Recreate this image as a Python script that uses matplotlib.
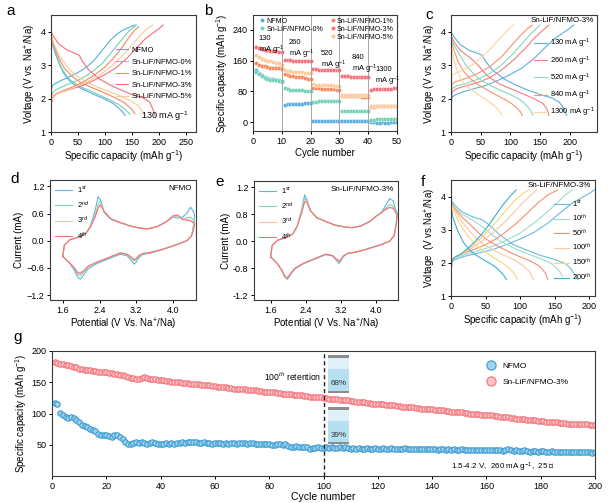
import matplotlib.pyplot as plt
from matplotlib.patches import Rectangle

plt.rcParams['font.family'] = ['Liberation Sans', 'DejaVu Sans']
plt.rcParams['mathtext.fontset'] = 'custom'
plt.rcParams['mathtext.rm'] = 'Liberation Sans'
plt.rcParams['mathtext.it'] = 'Liberation Sans:italic'
plt.rcParams['font.size'] = 6.5
plt.rcParams['axes.linewidth'] = 0.8
plt.rcParams['axes.edgecolor'] = '#3a3a3a'
plt.rcParams['xtick.major.size'] = 2.5
plt.rcParams['ytick.major.size'] = 2.5
plt.rcParams['xtick.major.width'] = 0.7
plt.rcParams['ytick.major.width'] = 0.7
plt.rcParams['xtick.major.pad'] = 1.5
plt.rcParams['ytick.major.pad'] = 1.5
plt.rcParams['axes.labelpad'] = 1.5

# ---------------- panel a : charge / discharge, 130 mA g-1 ----------------
a_labels = ['NFMO', 'Sn-LiF/NFMO-0%', 'Sn-LiF/NFMO-1%', 'Sn-LiF/NFMO-3%', 'Sn-LiF/NFMO-5%']
a_colors = ['#56aedf', '#6fd1b6', '#f7875b', '#f76d7a', '#fcc998']
a_chg_cap = [
    [0, 1, 3, 10, 20, 30, 40, 50, 60, 70, 80, 90, 100, 110, 120, 130, 140, 150, 155],
    [0, 2, 8, 20, 35, 50, 65, 80, 95, 110, 125, 140, 150, 158],
    [0, 2, 10, 25, 40, 60, 80, 100, 115, 130, 145, 155, 162],
    [0, 2, 8, 20, 40, 60, 80, 100, 120, 140, 160, 175, 190, 200, 207],
    [0, 3, 12, 30, 50, 70, 90, 110, 130, 150, 165, 178, 188],
]
a_chg_v = [
    [2.0, 2.3, 2.4, 2.47, 2.55, 2.62, 2.7, 2.78, 2.88, 3.0, 3.15, 3.35, 3.55, 3.75, 3.9, 4.02, 4.1, 4.17, 4.2],
    [1.9, 2.15, 2.25, 2.35, 2.45, 2.55, 2.68, 2.85, 3.05, 3.35, 3.65, 3.95, 4.1, 4.2],
    [1.8, 2.05, 2.15, 2.25, 2.35, 2.5, 2.7, 2.95, 3.2, 3.5, 3.85, 4.05, 4.15],
    [1.75, 2.0, 2.12, 2.2, 2.3, 2.4, 2.55, 2.72, 2.92, 3.2, 3.55, 3.8, 3.98, 4.1, 4.2],
    [1.8, 2.05, 2.15, 2.25, 2.38, 2.52, 2.7, 2.95, 3.25, 3.6, 3.9, 4.1, 4.2],
]
a_dis_cap = [
    [0, 3, 8, 15, 22, 30, 40, 50, 60, 80, 100, 115, 125, 132, 137],
    [0, 5, 12, 20, 30, 40, 55, 70, 90, 110, 125, 135, 142, 146],
    [0, 5, 15, 25, 40, 55, 75, 95, 115, 135, 148, 155],
    [0, 5, 15, 30, 45, 52, 58, 70, 90, 110, 130, 150, 170, 182, 188, 192],
    [0, 5, 15, 30, 45, 65, 85, 105, 125, 145, 160, 168, 173],
]
a_dis_v = [
    [3.8, 3.6, 3.35, 3.05, 2.8, 2.6, 2.45, 2.35, 2.27, 2.12, 1.98, 1.85, 1.72, 1.6, 1.5],
    [3.85, 3.55, 3.2, 2.9, 2.65, 2.5, 2.35, 2.25, 2.1, 1.95, 1.82, 1.7, 1.6, 1.52],
    [3.9, 3.6, 3.2, 2.9, 2.65, 2.48, 2.33, 2.2, 2.05, 1.88, 1.7, 1.55],
    [4.0, 3.85, 3.62, 3.45, 3.35, 3.3, 3.12, 2.85, 2.58, 2.4, 2.25, 2.12, 2.02, 1.9, 1.7, 1.5],
    [3.95, 3.65, 3.3, 2.95, 2.7, 2.5, 2.35, 2.22, 2.1, 1.95, 1.8, 1.65, 1.5],
]

# ---------------- panel b : rate capability ----------------
b_cycles = list(range(1, 51))
b_nfmo = [135, 128, 122, 118, 115, 113, 112, 110, 110, 104,
          45, 46, 47, 47, 48, 48, 48, 49, 49, 50,
          2, 2, 2, 2, 2, 2, 2, 2, 2, 2,
          3, 3, 3, 3, 3, 3, 3, 3, 3, 3,
          1, 0, -1, -1, 0, -1, -1, 0, 0, 0]
b_s0 = [130, 125, 120, 115, 112, 110, 110, 110, 108, 108,
        88, 86, 85, 84, 84, 83, 83, 82, 82, 82,
        53, 53, 54, 54, 54, 54, 54, 54, 54, 54,
        30, 30, 30, 30, 30, 30, 30, 30, 30, 30,
        5, 6, 7, 7, 8, 8, 8, 8, 7, 7]
b_s1 = [155, 150, 147, 145, 143, 142, 142, 140, 140, 138,
        125, 122, 120, 120, 118, 118, 117, 115, 113, 112,
        90, 88, 88, 87, 87, 86, 86, 86, 85, 85,
        68, 68, 68, 67, 67, 67, 67, 66, 66, 66,
        40, 40, 41, 41, 41, 41, 41, 41, 41, 41]
b_s3 = [195, 192, 190, 188, 187, 186, 185, 184, 183, 182,
        163, 162, 161, 160, 160, 159, 159, 158, 158, 158,
        138, 138, 137, 137, 137, 136, 136, 136, 135, 135,
        120, 119, 119, 118, 118, 118, 117, 117, 117, 117,
        85, 86, 86, 87, 87, 87, 87, 87, 88, 88]
b_s5 = [175, 170, 165, 162, 160, 158, 156, 155, 153, 150,
        135, 133, 132, 131, 131, 130, 130, 129, 129, 128,
        100, 98, 97, 97, 96, 96, 96, 95, 95, 95,
        72, 72, 71, 71, 71, 71, 71, 70, 70, 70,
        42, 42, 42, 42, 42, 42, 42, 42, 42, 42]
b_rates = ['130', '260', '520', '840', '1300']

# ---------------- panel c : Sn-LiF/NFMO-3% at various rates ----------------
c_labels = ['130 mA g$^{-1}$', '260 mA g$^{-1}$', '520 mA g$^{-1}$', '840 mA g$^{-1}$', '1300 mA g$^{-1}$']
c_colors = ['#5ab0e2', '#f47c80', '#86d8bf', '#f8946b', '#fdd3a3']
c_chg_cap = [
    [0, 2, 8, 20, 40, 60, 80, 100, 120, 140, 160, 175, 190, 200, 207],
    [0, 2, 10, 25, 45, 65, 85, 105, 125, 140, 155, 165],
    [0, 2, 10, 25, 45, 65, 85, 105, 120, 135, 150],
    [0, 2, 10, 25, 45, 65, 85, 100, 115, 128, 137],
    [0, 2, 10, 25, 40, 55, 70, 85, 97, 105],
]
c_chg_v = [
    [1.75, 2.05, 2.12, 2.2, 2.3, 2.4, 2.55, 2.72, 2.92, 3.2, 3.55, 3.8, 3.98, 4.1, 4.2],
    [1.9, 2.2, 2.3, 2.38, 2.48, 2.62, 2.85, 3.15, 3.5, 3.8, 4.05, 4.2],
    [2.0, 2.3, 2.38, 2.45, 2.58, 2.75, 3.0, 3.35, 3.65, 3.95, 4.2],
    [2.1, 2.45, 2.52, 2.6, 2.75, 2.95, 3.25, 3.55, 3.85, 4.08, 4.2],
    [2.3, 2.7, 2.78, 2.9, 3.05, 3.3, 3.55, 3.85, 4.08, 4.2],
]
c_dis_cap = [
    [0, 5, 15, 30, 45, 52, 58, 70, 90, 110, 130, 150, 170, 182, 190, 195],
    [0, 5, 15, 30, 40, 48, 60, 80, 100, 120, 140, 155, 162, 165],
    [0, 5, 15, 25, 35, 45, 60, 80, 100, 115, 127, 134, 138],
    [0, 5, 12, 22, 32, 45, 60, 75, 90, 102, 112, 117, 120],
    [0, 4, 10, 18, 28, 40, 52, 63, 72, 79, 83, 85],
]
c_dis_v = [
    [4.0, 3.85, 3.62, 3.45, 3.35, 3.3, 3.12, 2.85, 2.58, 2.4, 2.25, 2.12, 2.02, 1.9, 1.7, 1.5],
    [3.9, 3.7, 3.45, 3.25, 3.1, 2.95, 2.7, 2.45, 2.3, 2.15, 2.0, 1.85, 1.68, 1.5],
    [3.85, 3.6, 3.3, 3.0, 2.8, 2.62, 2.45, 2.27, 2.12, 1.98, 1.8, 1.65, 1.5],
    [3.75, 3.45, 3.1, 2.8, 2.6, 2.42, 2.27, 2.12, 1.98, 1.85, 1.7, 1.6, 1.5],
    [3.6, 3.2, 2.85, 2.55, 2.35, 2.2, 2.05, 1.92, 1.8, 1.68, 1.58, 1.5],
]

# ---------------- panels d, e : CV curves ----------------
cv_labels = ['1$^{st}$', '2$^{nd}$', '3$^{rd}$', '4$^{th}$']
cv_colors = ['#5db6e2', '#7fd6bd', '#fbc3a6', '#f47276']
cv_up_v = [1.6, 1.63, 1.75, 1.95, 2.1, 2.2, 2.3, 2.37, 2.42, 2.5, 2.65, 2.85, 3.05, 3.25,
           3.45, 3.65, 3.85, 4.0, 4.1, 4.2, 4.3, 4.38, 4.42, 4.47]
cv_dn_v = [4.47, 4.45, 4.4, 4.3, 4.1, 3.9, 3.7, 3.5, 3.35, 3.25, 3.2, 3.15, 3.1, 3.0, 2.85,
           2.6, 2.35, 2.15, 2.05, 1.98, 1.92, 1.85, 1.75, 1.65, 1.6]
d_up_i = [
    [-0.35, -0.1, 0.02, 0.08, 0.16, 0.32, 0.66, 0.97, 0.9, 0.62, 0.47, 0.4, 0.33, 0.28, 0.26, 0.31, 0.41, 0.52, 0.5, 0.52, 0.6, 0.74, 0.68, 0.58],
    [-0.35, -0.1, 0.02, 0.08, 0.16, 0.3, 0.55, 0.8, 0.88, 0.64, 0.48, 0.4, 0.33, 0.28, 0.26, 0.31, 0.41, 0.52, 0.55, 0.5, 0.5, 0.52, 0.48, 0.42],
    [-0.35, -0.1, 0.02, 0.08, 0.16, 0.3, 0.52, 0.74, 0.8, 0.64, 0.48, 0.4, 0.33, 0.28, 0.26, 0.31, 0.41, 0.53, 0.56, 0.48, 0.46, 0.45, 0.42, 0.38],
    [-0.35, -0.1, 0.02, 0.08, 0.16, 0.3, 0.52, 0.72, 0.79, 0.64, 0.48, 0.4, 0.33, 0.28, 0.26, 0.31, 0.42, 0.55, 0.57, 0.47, 0.45, 0.44, 0.41, 0.37],
]
d_dn_i = [
    [0.58, 0.35, 0.1, 0.0, -0.08, -0.15, -0.22, -0.28, -0.3, -0.38, -0.47, -0.52, -0.45, -0.33, -0.3, -0.4, -0.5, -0.62, -0.76, -0.85, -0.8, -0.66, -0.5, -0.4, -0.35],
    [0.42, 0.3, 0.1, 0.0, -0.08, -0.15, -0.22, -0.27, -0.29, -0.35, -0.42, -0.45, -0.4, -0.31, -0.28, -0.38, -0.48, -0.58, -0.7, -0.77, -0.74, -0.62, -0.5, -0.4, -0.35],
    [0.38, 0.28, 0.1, 0.0, -0.08, -0.15, -0.21, -0.26, -0.28, -0.34, -0.4, -0.43, -0.38, -0.3, -0.27, -0.37, -0.47, -0.57, -0.68, -0.73, -0.71, -0.6, -0.49, -0.4, -0.35],
    [0.37, 0.27, 0.1, 0.0, -0.08, -0.15, -0.21, -0.26, -0.28, -0.33, -0.39, -0.42, -0.37, -0.3, -0.27, -0.37, -0.47, -0.56, -0.67, -0.72, -0.7, -0.6, -0.49, -0.4, -0.35],
]
e_up_i = [
    [-0.35, -0.1, 0.02, 0.08, 0.16, 0.34, 0.7, 1.03, 0.93, 0.68, 0.52, 0.44, 0.36, 0.32, 0.3, 0.34, 0.44, 0.56, 0.62, 0.78, 0.95, 0.9, 0.75, 0.62],
    [-0.35, -0.1, 0.02, 0.08, 0.16, 0.33, 0.66, 0.95, 0.9, 0.68, 0.52, 0.44, 0.36, 0.32, 0.3, 0.34, 0.44, 0.56, 0.62, 0.72, 0.82, 0.78, 0.7, 0.6],
    [-0.35, -0.1, 0.02, 0.08, 0.16, 0.33, 0.64, 0.9, 0.88, 0.68, 0.52, 0.44, 0.36, 0.32, 0.3, 0.34, 0.44, 0.56, 0.63, 0.7, 0.76, 0.74, 0.68, 0.58],
    [-0.35, -0.1, 0.02, 0.08, 0.16, 0.33, 0.62, 0.88, 0.87, 0.68, 0.52, 0.44, 0.36, 0.32, 0.3, 0.34, 0.44, 0.56, 0.63, 0.7, 0.75, 0.73, 0.67, 0.58],
]
e_dn_i = [
    [0.62, 0.4, 0.12, 0.0, -0.08, -0.14, -0.2, -0.25, -0.27, -0.34, -0.43, -0.5, -0.44, -0.33, -0.3, -0.4, -0.5, -0.62, -0.75, -0.85, -0.8, -0.65, -0.5, -0.4, -0.36],
    [0.6, 0.38, 0.12, 0.0, -0.08, -0.14, -0.2, -0.25, -0.27, -0.33, -0.41, -0.47, -0.42, -0.32, -0.29, -0.39, -0.49, -0.61, -0.74, -0.83, -0.79, -0.65, -0.5, -0.4, -0.36],
    [0.58, 0.37, 0.12, 0.0, -0.08, -0.14, -0.2, -0.25, -0.27, -0.33, -0.4, -0.45, -0.41, -0.32, -0.29, -0.39, -0.49, -0.6, -0.73, -0.82, -0.78, -0.64, -0.5, -0.4, -0.36],
    [0.58, 0.37, 0.12, 0.0, -0.08, -0.14, -0.2, -0.25, -0.27, -0.33, -0.4, -0.44, -0.4, -0.32, -0.29, -0.39, -0.49, -0.6, -0.72, -0.82, -0.78, -0.64, -0.5, -0.4, -0.36],
]

# ---------------- panel f : Sn-LiF/NFMO-3% at different cycles ----------------
f_labels = ['1$^{st}$', '10$^{th}$', '50$^{th}$', '100$^{th}$', '150$^{th}$', '200$^{th}$']
f_colors = ['#6cbae3', '#9cdcc9', '#f4906d', '#fcc8a2', '#fdd47e', '#3fb1c9']
f_chg_cap = [
    [0, 2, 8, 20, 40, 60, 80, 100, 120, 140, 160, 175, 190, 200, 207],
    [0, 2, 8, 20, 40, 60, 80, 100, 120, 140, 155, 165, 175],
    [0, 2, 8, 20, 35, 50, 65, 80, 95, 110, 125, 140, 154],
    [0, 2, 8, 18, 30, 45, 60, 75, 90, 103, 114, 124],
    [0, 2, 8, 18, 30, 42, 55, 68, 80, 92, 103, 112],
    [0, 2, 8, 15, 25, 35, 45, 55, 65, 75, 85, 94],
]
f_chg_v = [
    [1.75, 2.05, 2.12, 2.2, 2.3, 2.4, 2.55, 2.72, 2.92, 3.2, 3.55, 3.8, 3.98, 4.1, 4.2],
    [1.8, 2.1, 2.17, 2.25, 2.37, 2.5, 2.68, 2.9, 3.2, 3.55, 3.85, 4.05, 4.2],
    [1.8, 2.12, 2.2, 2.3, 2.42, 2.55, 2.72, 2.95, 3.2, 3.5, 3.8, 4.05, 4.2],
    [1.8, 2.12, 2.2, 2.3, 2.45, 2.65, 2.9, 3.18, 3.5, 3.8, 4.02, 4.2],
    [1.8, 2.12, 2.2, 2.3, 2.5, 2.72, 3.0, 3.3, 3.6, 3.88, 4.08, 4.2],
    [1.8, 2.1, 2.2, 2.28, 2.45, 2.65, 2.88, 3.15, 3.45, 3.75, 4.0, 4.2],
]
f_dis_cap = [
    [0, 5, 15, 30, 45, 55, 70, 90, 110, 130, 150, 165, 172, 177, 183],
    [0, 5, 15, 30, 45, 55, 70, 90, 110, 130, 145, 155, 161],
    [0, 5, 15, 28, 40, 52, 68, 85, 100, 115, 128, 136, 140],
    [0, 5, 14, 25, 36, 48, 62, 77, 92, 104, 113, 119],
    [0, 4, 12, 22, 32, 43, 55, 66, 77, 86, 92, 96],
    [0, 3, 10, 18, 26, 35, 45, 55, 64, 72, 77, 80],
]
f_dis_v = [
    [3.9, 3.75, 3.55, 3.4, 3.3, 3.15, 2.85, 2.55, 2.38, 2.22, 2.1, 1.98, 1.85, 1.7, 1.5],
    [3.85, 3.68, 3.48, 3.3, 3.1, 2.92, 2.68, 2.45, 2.28, 2.12, 1.98, 1.8, 1.6],
    [3.85, 3.65, 3.4, 3.15, 2.9, 2.7, 2.5, 2.32, 2.18, 2.05, 1.9, 1.7, 1.5],
    [3.8, 3.6, 3.3, 3.0, 2.75, 2.55, 2.38, 2.22, 2.08, 1.92, 1.75, 1.5],
    [3.8, 3.55, 3.2, 2.88, 2.62, 2.42, 2.25, 2.1, 1.96, 1.8, 1.65, 1.5],
    [3.7, 3.35, 2.95, 2.62, 2.4, 2.25, 2.12, 2.0, 1.88, 1.72, 1.6, 1.5],
]

# ---------------- panel g : long cycling at 260 mA g-1 ----------------
g_cycles = list(range(1, 201))
g_nfmo = [117, 115, 101, 97, 94, 93, 95, 93, 90, 87,
          82, 80, 79, 76, 74, 72, 68, 66, 66, 65,
          64, 62, 66, 65, 62, 59, 55, 51, 52, 53,
          54, 53, 54, 53, 52, 53, 54, 53, 51, 52,
          52, 53, 52, 53, 52, 53, 53, 54, 53, 54,
          54, 55, 54, 53, 53, 54, 53, 53, 52, 53,
          53, 53, 52, 53, 52, 53, 53, 52, 53, 53,
          53, 52, 53, 53, 52, 52, 51, 52, 51, 51,
          50, 50, 51, 51, 50, 51, 48, 47, 47, 48,
          47, 46, 46, 47, 44, 45, 45, 46, 45, 45,
          46, 45, 46, 45, 45, 46, 45, 46, 45, 44,
          45, 44, 45, 44, 44, 45, 44, 44, 45, 44,
          44, 45, 44, 44, 45, 44, 44, 43, 44, 45,
          44, 43, 44, 43, 44, 43, 43, 44, 43, 43,
          43, 42, 43, 43, 42, 43, 42, 43, 42, 42,
          43, 42, 42, 41, 42, 42, 41, 42, 41, 41,
          42, 41, 41, 42, 41, 40, 41, 43, 41, 40,
          41, 40, 40, 41, 40, 39, 40, 40, 39, 40,
          40, 39, 39, 40, 39, 38, 39, 39, 38, 39,
          39, 38, 39, 38, 38, 39, 38, 38, 37, 38]
g_sn3 = [183, 181, 180, 179, 178, 177, 176, 175, 174, 172,
         171, 170, 170, 169, 168, 168, 167, 167, 166, 166,
         165, 165, 164, 163, 162, 161, 160, 158, 157, 157,
         156, 156, 157, 158, 157, 156, 155, 155, 154, 154,
         153, 152, 152, 151, 151, 150, 150, 149, 149, 149,
         148, 148, 147, 147, 146, 146, 145, 145, 144, 144,
         143, 143, 142, 142, 141, 141, 140, 140, 139, 139,
         139, 138, 138, 137, 137, 136, 136, 135, 135, 135,
         134, 134, 133, 133, 132, 132, 131, 131, 130, 130,
         129, 129, 128, 128, 127, 127, 126, 126, 126, 125,
         125, 124, 124, 123, 123, 122, 122, 121, 121, 120,
         120, 119, 119, 118, 118, 117, 117, 116, 116, 115,
         115, 115, 114, 114, 113, 113, 112, 112, 111, 111,
         111, 110, 110, 109, 109, 108, 108, 108, 107, 107,
         106, 106, 105, 105, 104, 104, 103, 103, 102, 102,
         102, 101, 101, 100, 100, 99, 99, 98, 98, 97,
         97, 97, 96, 96, 95, 95, 94, 94, 93, 93,
         92, 92, 91, 91, 90, 90, 89, 89, 88, 88,
         88, 87, 87, 86, 86, 86, 85, 85, 85, 84,
         84, 84, 84, 83, 83, 83, 83, 82, 82, 82]

W, H = 609, 503


def box(l, t, r, b):
    return [l / W, 1 - b / H, (r - l) / W, (b - t) / H]


def letter(fig, px, py, s):
    fig.text(px / W, 1 - py / H, s, fontsize=11, ha='left', va='top')


fig = plt.figure(figsize=(W / 100, H / 100), dpi=100)

# ---- a ----
ax = fig.add_axes(box(51, 15, 196, 132))
for i in range(5):
    ax.plot(a_chg_cap[i], a_chg_v[i], color=a_colors[i], lw=0.8, label=a_labels[i])
    ax.plot(a_dis_cap[i], a_dis_v[i], color=a_colors[i], lw=0.8)
ax.set_xlim(0, 268)
ax.set_ylim(1, 4.5)
ax.set_xticks([0, 50, 100, 150, 200, 250])
ax.set_yticks([1, 2, 3, 4])
ax.set_xlabel('Specific capacity (mAh g$^{-1}$)', fontsize=7)
ax.set_ylabel('Voltage (V vs. Na$^{+}$/Na)', fontsize=7)
ax.legend(loc='center right', bbox_to_anchor=(1.02, 0.5), frameon=False, fontsize=5.5,
          handlelength=1.6, labelspacing=0.55, handletextpad=0.4)
ax.text(0.95, 0.08, '130 mA g$^{-1}$', transform=ax.transAxes, ha='right', va='bottom', fontsize=6.5)
letter(fig, 6, 4, 'a')

# ---- b ----
ax = fig.add_axes(box(253, 15, 397, 131))
b_series = [b_nfmo, b_s0, b_s1, b_s3, b_s5]
for i in range(5):
    ax.plot(b_cycles, b_series[i], 'o', ms=3.0, color=a_colors[i], mec='white', mew=0.25,
            label=a_labels[i])
for x in [10, 20, 30, 40]:
    ax.axvline(x, color='#9a9a9a', lw=0.6)
rate_pos = [(2.0, 226), (12.4, 216), (23.6, 188), (34.3, 178), (42.4, 147)]
for (x, y), r in zip(rate_pos, b_rates):
    ax.text(x, y, r + '\nmA g$^{-1}$', ha='left', va='top', fontsize=5.4, linespacing=1.2)
ax.set_xlim(0, 50)
ax.set_ylim(-23, 279)
ax.set_xticks([0, 10, 20, 30, 40, 50])
ax.set_yticks([0, 80, 160, 240])
ax.set_xlabel('Cycle number', fontsize=7)
ax.set_ylabel('Specific capacity (mAh g$^{-1}$)', fontsize=7)
h, l = ax.get_legend_handles_labels()
lg1 = ax.legend(h[:2], l[:2], loc='upper left', bbox_to_anchor=(0.0, 1.03), frameon=False,
                fontsize=5.0, handlelength=0.8, handletextpad=0.2, labelspacing=0.15)
ax.add_artist(lg1)
ax.legend(h[2:], l[2:], loc='upper right', bbox_to_anchor=(1.02, 1.03), frameon=False,
          fontsize=5.0, handlelength=0.8, handletextpad=0.2, labelspacing=0.15)
letter(fig, 204, 4, 'b')

# ---- c ----
ax = fig.add_axes(box(451, 15, 597, 132))
for i in range(5):
    ax.plot(c_chg_cap[i], c_chg_v[i], color=c_colors[i], lw=0.8, label=c_labels[i])
    ax.plot(c_dis_cap[i], c_dis_v[i], color=c_colors[i], lw=0.8)
ax.set_xlim(0, 246)
ax.set_ylim(1, 4.5)
ax.set_xticks([0, 50, 100, 150, 200])
ax.set_yticks([1, 2, 3, 4])
ax.set_xlabel('Specific capacity (mAh g$^{-1}$)', fontsize=7)
ax.set_ylabel('Voltage (V vs. Na$^{+}$/Na)', fontsize=7)
ax.legend(loc='upper right', bbox_to_anchor=(1.03, 0.87), frameon=False, fontsize=5.5,
          handlelength=1.6, labelspacing=0.5, handletextpad=0.4)
ax.text(0.98, 0.98, 'Sn-LiF/NFMO-3%', transform=ax.transAxes, ha='right', va='top', fontsize=5.8)
letter(fig, 425, 8, 'c')

# ---- d ----
ax = fig.add_axes(box(50, 180, 196, 300))
for i in range(4):
    ax.plot(cv_up_v + cv_dn_v, d_up_i[i] + d_dn_i[i], color=cv_colors[i], lw=0.8, label=cv_labels[i])
ax.set_xlim(1.32, 4.5)
ax.set_ylim(-1.31, 1.34)
ax.set_xticks([1.6, 2.4, 3.2, 4.0])
ax.set_yticks([-1.2, -0.6, 0.0, 0.6, 1.2])
ax.set_xlabel('Potential (V Vs. Na$^{+}$/Na)', fontsize=7)
ax.set_ylabel('Current (mA)', fontsize=7)
ax.legend(loc='upper left', bbox_to_anchor=(-0.01, 1.02), frameon=False, fontsize=5.5,
          handlelength=2.2, labelspacing=0.55, handletextpad=0.6)
ax.text(0.97, 0.96, 'NFMO', transform=ax.transAxes, ha='right', va='top', fontsize=5.8)
letter(fig, 10, 172, 'd')

# ---- e ----
ax = fig.add_axes(box(254, 181, 398, 300))
for i in range(4):
    ax.plot(cv_up_v + cv_dn_v, e_up_i[i] + e_dn_i[i], color=cv_colors[i], lw=0.8, label=cv_labels[i])
ax.set_xlim(1.22, 4.49)
ax.set_ylim(-1.31, 1.34)
ax.set_xticks([1.6, 2.4, 3.2, 4.0])
ax.set_yticks([-1.2, -0.6, 0.0, 0.6, 1.2])
ax.set_yticklabels(['-1.2', '-0.8', '0.0', '0.8', '1.2'])
ax.set_xlabel('Potential (V Vs. Na$^{+}$/Na)', fontsize=7)
ax.set_ylabel('Current (mA)', fontsize=7)
ax.legend(loc='upper left', bbox_to_anchor=(-0.01, 1.02), frameon=False, fontsize=5.5,
          handlelength=2.2, labelspacing=0.55, handletextpad=0.6)
ax.text(0.97, 0.96, 'Sn-LiF/NFMO-3%', transform=ax.transAxes, ha='right', va='top', fontsize=5.8)
letter(fig, 215, 175, 'e')

# ---- f ----
ax = fig.add_axes(box(451, 180, 595, 296))
for i in range(6):
    ax.plot(f_chg_cap[i], f_chg_v[i], color=f_colors[i], lw=0.8, label=f_labels[i])
    ax.plot(f_dis_cap[i], f_dis_v[i], color=f_colors[i], lw=0.8)
ax.set_xlim(0, 208)
ax.set_ylim(1, 4.5)
ax.set_xticks([0, 50, 100, 150, 200])
ax.set_yticks([1, 2, 3, 4])
ax.set_xlabel('Specific capacity (mAh g$^{-1}$)', fontsize=7)
ax.set_ylabel('Voltage  (V vs.Na$^{+}$/Na)', fontsize=7)
ax.legend(loc='upper right', bbox_to_anchor=(1.02, 0.9), frameon=False, fontsize=5.5,
          handlelength=2.0, labelspacing=0.45, handletextpad=0.4)
ax.text(0.97, 0.98, 'Sn-LiF/NFMO-3%', transform=ax.transAxes, ha='right', va='top', fontsize=5.8)
letter(fig, 421, 175, 'f')

# ---- g ----
ax = fig.add_axes(box(52, 351, 595, 476))
ax.plot(g_cycles, g_nfmo, 'o', ms=3.9, mfc='#9fd3ef', mec='#3b9bd0', mew=0.8, label='NFMO')
ax.plot(g_cycles, g_sn3, 'o', ms=3.9, mfc='#fcc4c6', mec='#f2737b', mew=0.8, label='Sn-LiF/NFMO-3%')
ax.axvline(100, color='#222222', lw=1.0, ls=(0, (3, 2)))
ax.text(99, 158, '100$^{th}$ retention', ha='right', va='center', fontsize=6.2)
for (top, bot, txt) in [(193.5, 133, '68%'), (111, 51, '39%')]:
    hgt = top - bot
    ax.add_patch(Rectangle((101.7, bot), 7.7, hgt, facecolor='#dff0f9', edgecolor='none', zorder=5))
    ax.add_patch(Rectangle((101.7, bot), 7.7, hgt * 0.62, facecolor='#b6dff2', edgecolor='none', zorder=5))
    ax.add_patch(Rectangle((101.7, top - hgt * 0.08), 7.7, hgt * 0.08, facecolor='#8c8c8c', edgecolor='none', zorder=6))
    ax.add_patch(Rectangle((101.7, bot), 7.7, hgt * 0.06, facecolor='#8c8c8c', edgecolor='none', zorder=6))
    ax.text(105.5, bot + hgt * 0.24, txt, ha='center', va='center', fontsize=5.8, color='#333333', zorder=7)
ax.text(0.83, 0.07, '1.5-4.2 V,  260 mA g$^{-1}$,  25 \u2103', transform=ax.transAxes,
        ha='center', va='center', fontsize=5.8)
ax.set_xlim(0, 200)
ax.set_ylim(0, 200)
ax.set_xticks(range(0, 201, 20))
ax.set_yticks([50, 100, 150, 200])
ax.set_xlabel('Cycle number', fontsize=7.5, labelpad=1)
ax.set_ylabel('Specific capacity (mAh g$^{-1}$)', fontsize=7)
ax.legend(loc='upper left', bbox_to_anchor=(0.78, 0.97), frameon=False, fontsize=6,
          markerscale=1.7, handletextpad=0.3, labelspacing=1.0)
letter(fig, 13, 330, 'g')

fig.savefig('out.png', dpi=100)
